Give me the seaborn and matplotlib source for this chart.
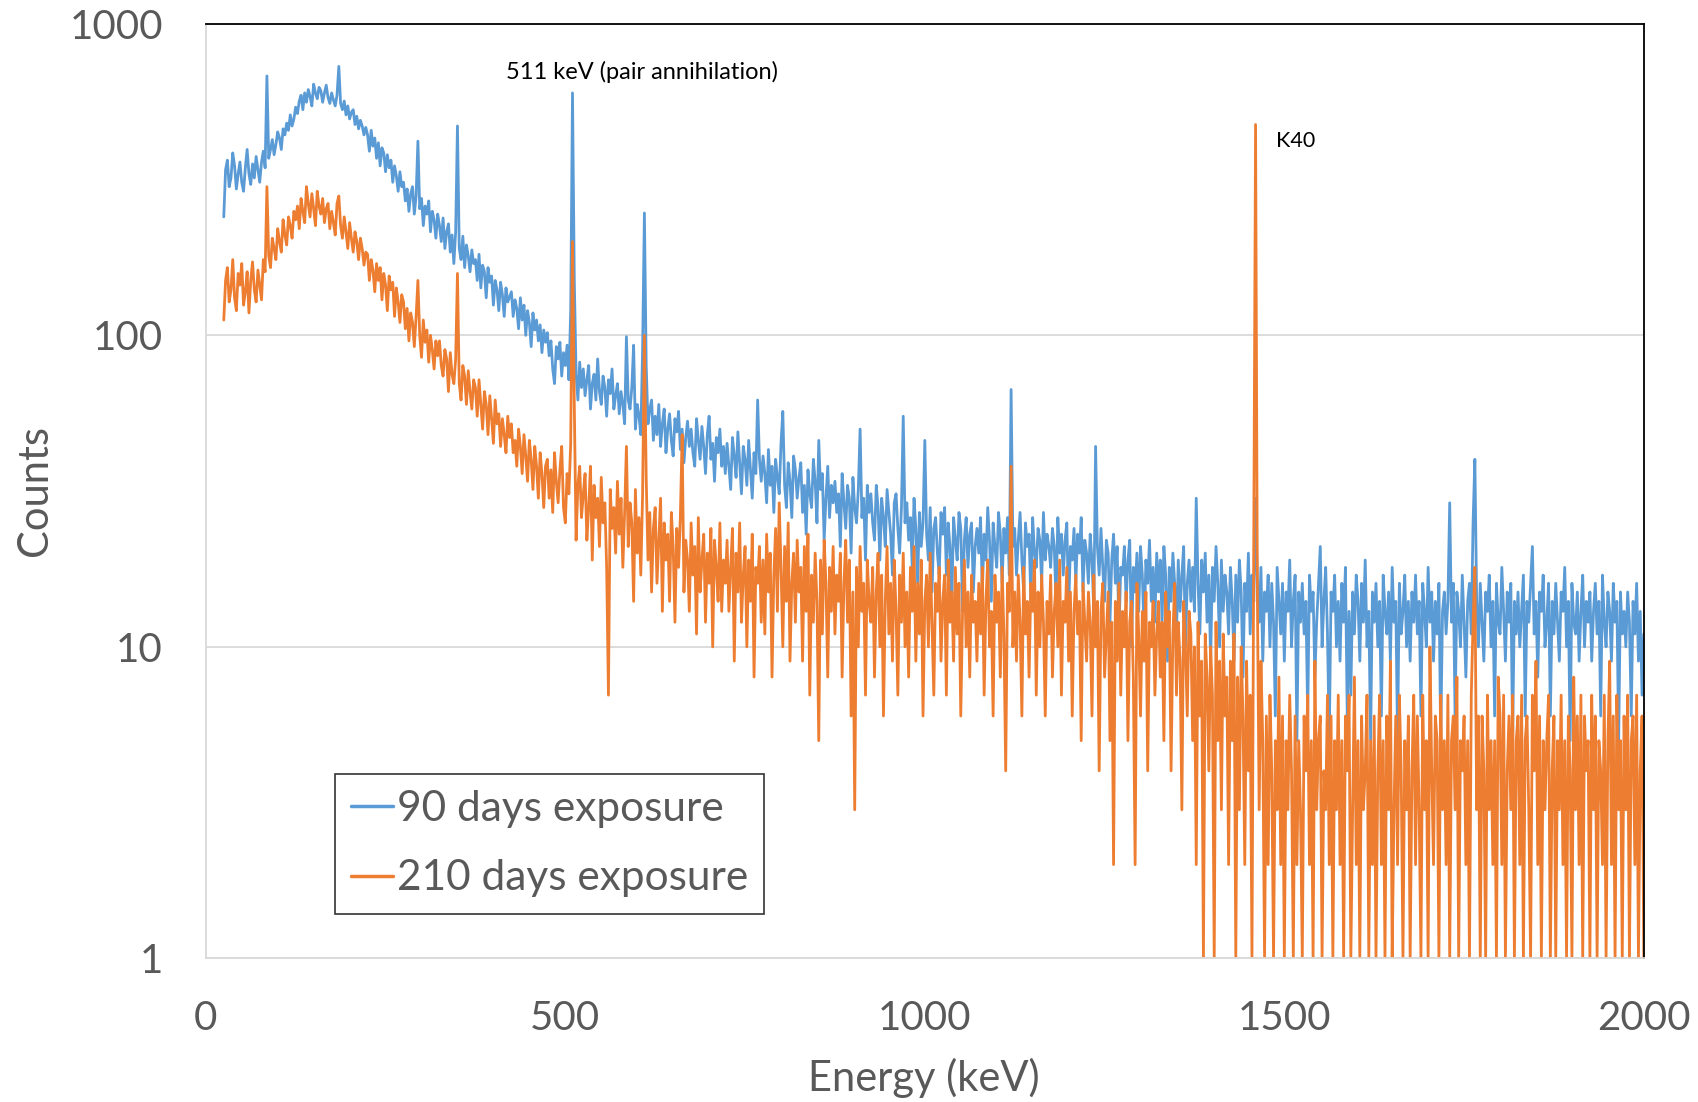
import numpy as np
import pandas as pd
import matplotlib
matplotlib.use("Agg")
import matplotlib.pyplot as plt
from matplotlib.ticker import FixedLocator, NullLocator
import seaborn as sns

# ---------------- data (2.5 keV sampling) ----------------
ENERGY_START_KEV = 25.0
ENERGY_STEP_KEV = 2.5

counts_90_days = [
    240, 340, 365, 300, 320, 385, 350, 295, 330, 360, 310, 290, 345, 395, 330, 305, 355, 320, 375, 340,   # 25
    310, 360, 390, 345, 680, 370, 395, 425, 380, 410, 450, 430, 395, 460, 440, 480, 455, 510, 470, 495,   # 75
    540, 515, 565, 590, 530, 600, 560, 615, 585, 545, 640, 600, 575, 625, 610, 560, 600, 635, 580, 555,   # 125
    600, 570, 545, 590, 730, 555, 530, 565, 510, 545, 495, 520, 530, 475, 505, 460, 490, 470, 440, 465,   # 175
    440, 390, 455, 405, 430, 370, 415, 350, 400, 385, 335, 380, 345, 365, 310, 350, 325, 290, 335, 300,   # 225
    310, 270, 295, 250, 285, 300, 245, 280, 420, 255, 275, 225, 260, 245, 270, 215, 250, 235, 205, 245,   # 275
    225, 200, 238, 190, 215, 228, 185, 210, 170, 215, 470, 190, 175, 208, 165, 195, 180, 160, 188, 170,   # 325
    175, 150, 182, 142, 168, 160, 132, 165, 148, 155, 125, 150, 140, 120, 148, 135, 115, 142, 128, 133,   # 375
    138, 115, 130, 122, 105, 132, 112, 125, 100, 120, 110, 92, 118, 104, 112, 96, 108, 88, 104, 95,       # 425
    102, 86, 96, 78, 70, 92, 84, 95, 74, 88, 80, 93, 72, 120, 600, 150, 75, 62, 82, 68,                   # 475
    78, 64, 72, 80, 58, 70, 75, 62, 84, 66, 60, 74, 68, 55, 72, 65, 78, 58, 64, 70,                       # 525
    56, 66, 60, 52, 99, 62, 58, 68, 93, 50, 60, 55, 48, 90, 247, 80, 52, 58, 62, 46,                      # 575
    55, 48, 60, 44, 52, 58, 42, 50, 56, 46, 41, 54, 49, 57, 43, 50, 39, 47, 53, 44,                       # 625
    50, 42, 38, 54, 46, 40, 51, 44, 36, 48, 55, 40, 45, 34, 47, 42, 50, 38, 44, 36,                       # 675
    45, 38, 32, 47, 41, 35, 49, 39, 31, 44, 40, 33, 46, 37, 30, 42, 36, 62, 40, 34,                       # 725
    41, 36, 29, 43, 33, 38, 27, 40, 35, 31, 45, 57, 33, 28, 39, 34, 26, 41, 37, 30,                       # 775
    35, 39, 27, 33, 23, 37, 31, 28, 40, 34, 25, 46, 32, 36, 22, 30, 38, 26, 33, 29,                       # 825
    34, 27, 31, 21, 36, 29, 24, 33, 30, 20, 35, 28, 25, 32, 50, 26, 30, 19, 33, 27,                       # 875
    31, 25, 22, 33, 28, 19, 30, 26, 21, 32, 27, 23, 17, 29, 31, 24, 20, 28, 55, 25,                       # 925
    29, 22, 26, 18, 30, 24, 16, 27, 21, 25, 46, 23, 19, 28, 15, 24, 26, 20, 17, 27,                       # 975
    23, 28, 17, 25, 21, 14, 26, 22, 19, 27, 24, 13, 22, 26, 18, 23, 25, 15, 21, 24,                       # 1025
    20, 26, 15, 23, 19, 28, 22, 14, 25, 21, 18, 27, 23, 16, 24, 20, 26, 17, 67, 21,                       # 1075
    24, 17, 22, 27, 19, 15, 25, 21, 23, 14, 26, 20, 18, 24, 22, 16, 27, 19, 23, 21,                       # 1125
    18, 24, 21, 14, 26, 20, 23, 17, 22, 25, 13, 21, 19, 24, 16, 23, 20, 26, 15, 22,                       # 1175
    20, 16, 23, 19, 13, 44, 21, 17, 24, 18, 14, 22, 20, 12, 19, 23, 16, 21, 11, 18,                       # 1225
    17, 21, 14, 19, 22, 10, 18, 15, 20, 13, 21, 17, 11, 19, 16, 22, 14, 18, 12, 20,                       # 1275
    15, 19, 12, 21, 17, 9, 18, 14, 20, 16, 11, 19, 13, 17, 21, 10, 16, 19, 14, 18,                        # 1325
    13, 30, 16, 11, 19, 15, 20, 12, 17, 9, 18, 14, 21, 16, 10, 19, 13, 17, 15, 11,                        # 1375
    18, 14, 9, 17, 12, 19, 15, 8, 16, 13, 20, 11, 17, 14, 30, 16, 12, 18, 9, 15,                          # 1425
    13, 17, 10, 16, 12, 6, 18, 14, 11, 16, 9, 15, 13, 19, 10, 14, 17, 5, 15, 12,                          # 1475
    16, 11, 14, 6, 17, 13, 15, 8, 12, 16, 21, 10, 14, 18, 11, 5, 15, 13, 17, 10,                          # 1525
    14, 9, 16, 12, 18, 6, 13, 7, 15, 11, 17, 14, 9, 16, 12, 19, 10, 13, 5, 15,                            # 1575
    12, 16, 10, 14, 6, 17, 13, 11, 15, 9, 18, 12, 14, 5, 16, 11, 13, 17, 10, 14,                          # 1625
    9, 15, 12, 17, 11, 14, 6, 16, 13, 10, 18, 12, 15, 9, 14, 11, 16, 5, 13, 15,                           # 1675
    11, 14, 29, 12, 16, 6, 15, 13, 10, 17, 12, 8, 14, 16, 11, 25, 40, 14, 10, 16,                         # 1725
    12, 9, 15, 13, 17, 10, 14, 6, 16, 12, 11, 18, 13, 9, 15, 12, 16, 5, 14, 11,                           # 1775
    15, 10, 13, 17, 6, 14, 12, 16, 21, 11, 14, 8, 15, 13, 17, 10, 12, 16, 6, 14,                          # 1825
    11, 16, 12, 9, 15, 13, 18, 10, 14, 5, 16, 12, 11, 15, 9, 13, 17, 10, 14, 12,                          # 1875
    15, 9, 13, 16, 11, 14, 6, 17, 12, 10, 15, 13, 9, 16, 12, 14, 5, 15, 11, 13,                           # 1925
    10, 15, 12, 6, 14, 11, 16, 9, 13, 7, 11,                                                              # 1975-2000
]

counts_210_days = [
    112, 150, 165, 128, 140, 175, 132, 120, 158, 145, 170, 125, 138, 160, 118, 150, 172, 140, 128, 162,   # 25
    145, 130, 175, 160, 300, 180, 165, 205, 190, 175, 220, 200, 185, 235, 210, 195, 240, 225, 205, 250,   # 75
    235, 260, 220, 275, 250, 230, 300, 265, 240, 285, 255, 225, 290, 260, 245, 275, 230, 255, 265, 220,   # 125
    250, 230, 210, 265, 280, 225, 205, 240, 215, 190, 230, 205, 185, 215, 200, 175, 205, 190, 168, 185,   # 175
    182, 150, 175, 162, 138, 170, 150, 165, 130, 158, 145, 120, 155, 140, 148, 115, 142, 128, 110, 135,   # 225
    128, 105, 122, 96, 118, 110, 92, 115, 150, 100, 85, 112, 95, 104, 82, 100, 90, 78, 96, 86,            # 275
    96, 80, 74, 90, 84, 66, 88, 75, 70, 84, 158, 70, 62, 80, 74, 60, 77, 66, 58, 72,                      # 325
    68, 55, 72, 60, 50, 66, 60, 48, 64, 54, 45, 62, 52, 56, 44, 54, 48, 42, 55, 47,                       # 375
    52, 42, 46, 38, 50, 44, 36, 48, 41, 34, 46, 40, 32, 44, 38, 30, 42, 36, 28, 38,                       # 425
    40, 30, 37, 27, 42, 34, 29, 37, 44, 28, 25, 36, 31, 45, 200, 60, 22, 33, 38, 26,                      # 475
    31, 36, 22, 28, 38, 19, 33, 26, 30, 21, 35, 25, 29, 18, 7, 32, 24, 28, 20, 34,                        # 525
    23, 30, 18, 27, 44, 21, 29, 25, 14, 32, 20, 26, 17, 31, 100, 35, 19, 27, 15, 24,                      # 575
    28, 16, 22, 30, 13, 25, 19, 23, 14, 27, 21, 12, 24, 18, 26, 48, 15, 22, 19, 13,                       # 625
    25, 17, 21, 11, 26, 15, 19, 23, 12, 20, 16, 24, 10, 22, 18, 14, 25, 13, 19, 16,                       # 675
    22, 13, 18, 24, 9, 20, 15, 25, 12, 17, 21, 10, 19, 14, 23, 8, 18, 16, 21, 12,                         # 725
    19, 11, 23, 15, 20, 8, 17, 24, 13, 29, 18, 10, 21, 14, 25, 9, 16, 20, 12, 22,                         # 775
    15, 18, 9, 21, 13, 23, 7, 17, 12, 20, 14, 5, 19, 11, 22, 16, 8, 18, 13, 21,                           # 825
    11, 17, 14, 20, 8, 16, 22, 12, 19, 6, 15, 3, 18, 10, 21, 13, 16, 7, 19, 14,                           # 875
    12, 18, 8, 15, 20, 10, 17, 6, 14, 21, 11, 16, 9, 19, 13, 7, 17, 12, 20, 10,                           # 925
    15, 8, 18, 13, 21, 9, 16, 11, 19, 6, 14, 17, 10, 20, 12, 7, 16, 13, 18, 9,                            # 975
    14, 17, 7, 19, 12, 15, 9, 18, 11, 16, 6, 13, 19, 10, 15, 8, 17, 12, 14, 9,                            # 1025
    16, 11, 18, 7, 14, 19, 10, 13, 6, 17, 12, 15, 8, 18, 11, 4, 16, 13, 38, 10,                           # 1075
    15, 9, 17, 12, 6, 18, 11, 14, 8, 16, 13, 19, 7, 15, 10, 17, 12, 6, 14, 11,                            # 1125
    17, 8, 13, 16, 10, 19, 7, 14, 12, 18, 9, 15, 6, 13, 17, 11, 14, 5, 16, 12,                            # 1175
    9, 15, 12, 6, 17, 10, 14, 4, 13, 16, 8, 11, 15, 5, 12, 2, 14, 9, 16, 7,                               # 1225
    13, 10, 15, 5, 12, 14, 8, 2, 16, 11, 6, 13, 9, 15, 4, 12, 10, 14, 7, 11,                              # 1275
    14, 8, 12, 5, 15, 10, 13, 4, 11, 16, 7, 12, 9, 3, 14, 10, 6, 13, 11, 5,                               # 1325
    10, 2, 12, 6, 9, 1, 11, 8, 4, 10, 7, 1, 12, 5, 9, 3, 11, 6, 8, 2,                                     # 1375
    9, 5, 11, 1, 8, 3, 10, 6, 2, 9, 4, 7, 1, 20, 475, 15, 3, 9, 5, 1,                                     # 1425
    6, 2, 7, 4, 1, 5, 3, 8, 2, 6, 1, 5, 3, 7, 4, 1, 6, 2, 5, 3,                                           # 1475
    1, 6, 4, 7, 2, 5, 1, 9, 3, 5, 6, 1, 4, 3, 7, 2, 6, 1, 5, 3,                                           # 1525
    7, 2, 5, 1, 6, 4, 7, 1, 3, 8, 2, 5, 1, 6, 3, 4, 7, 1, 5, 2,                                           # 1575
    6, 1, 4, 7, 2, 5, 1, 6, 3, 9, 1, 3, 6, 2, 7, 4, 1, 5, 3, 6,                                           # 1625
    1, 4, 7, 2, 6, 3, 1, 7, 3, 5, 1, 10, 4, 2, 6, 5, 1, 7, 3, 5,                                          # 1675
    2, 7, 1, 5, 6, 3, 8, 1, 5, 4, 6, 2, 5, 1, 7, 12, 18, 3, 6, 1,                                         # 1725
    6, 4, 1, 7, 3, 5, 2, 5, 1, 8, 6, 2, 7, 1, 4, 6, 3, 7, 1, 5,                                           # 1775
    6, 2, 7, 1, 5, 6, 3, 1, 7, 4, 9, 2, 6, 1, 5, 3, 5, 7, 1, 4,                                           # 1825
    6, 1, 5, 3, 7, 2, 5, 1, 6, 4, 1, 8, 3, 6, 2, 7, 1, 6, 4, 5,                                           # 1875
    1, 7, 3, 6, 1, 5, 4, 2, 7, 1, 5, 9, 2, 6, 1, 7, 3, 5, 1, 6,                                           # 1925
    3, 7, 1, 5, 6, 2, 7, 1, 4, 6, 1,                                                                      # 1975-2000
]

series_names = ["90 days exposure", "210 days exposure"]
series_colors = ["#5B9BD5", "#ED7D31"]

x_ticks = [0, 500, 1000, 1500, 2000]
y_ticks = [1, 10, 100, 1000]
y_tick_labels = ["1", "10", "100", "1000"]

annotations = [("511 keV (pair annihilation)", 417, 700, 17), ("K40", 1488, 420, 15.5)]

# ---------------- build table ----------------
frames = []
for name, vals in zip(series_names, [counts_90_days, counts_210_days]):
    e = ENERGY_START_KEV + ENERGY_STEP_KEV * np.arange(len(vals))
    frames.append(pd.DataFrame({"Energy (keV)": e, "Counts": vals, "Series": name}))
df = pd.concat(frames, ignore_index=True)

# ---------------- plot ----------------
sns.set_theme(style="white")
plt.rcParams["font.family"] = ["Lato", "DejaVu Sans"]

fig = plt.figure(figsize=(16.98, 11.02), dpi=100)
ax = fig.add_axes([0.1212, 0.1303, 0.8469, 0.8481])

sns.lineplot(data=df, x="Energy (keV)", y="Counts", hue="Series",
             hue_order=series_names, palette=series_colors,
             estimator=None, sort=False, linewidth=2.0, ax=ax)

ax.set_yscale("log")
ax.set_ylim(1, 1000)
ax.set_xlim(0, 2000)
ax.yaxis.set_major_locator(FixedLocator(y_ticks))
ax.yaxis.set_minor_locator(NullLocator())
ax.set_yticklabels(y_tick_labels)
ax.set_xticks(x_ticks)
ax.set_xticklabels([str(t) for t in x_ticks])

ax.grid(axis="y", color="#D9D9D9", linewidth=1.3)
ax.grid(axis="x", visible=False)
ax.set_axisbelow(True)

for side in ["left", "bottom"]:
    ax.spines[side].set_color("#D9D9D9")
    ax.spines[side].set_linewidth(1.3)
for side in ["top", "right"]:
    ax.spines[side].set_color("#000000")
    ax.spines[side].set_linewidth(1.3)

ax.tick_params(axis="both", which="both", length=0, labelsize=29,
               labelcolor="#595959")
ax.tick_params(axis="y", pad=31)
ax.tick_params(axis="x", pad=30)

ax.set_xlabel("Energy (keV)", fontsize=30, color="#595959")
ax.set_ylabel("Counts", fontsize=30, color="#595959")
ax.xaxis.set_label_coords(0.4994, -0.128)
ax.xaxis.label.set_va("center")
ax.yaxis.set_label_coords(-0.1188, 0.501)
ax.yaxis.label.set_va("center")

for text, ex, cy, fs in annotations:
    ax.text(ex, cy, text, fontsize=fs, color="black", ha="left", va="center")

leg = ax.legend(loc="upper left", bbox_to_anchor=(0.0898, 0.1973),
                fontsize=30.5, frameon=True, fancybox=False,
                handlelength=1.0, handletextpad=0.08, borderpad=0.38,
                labelspacing=0.74, borderaxespad=0)
leg.get_frame().set_edgecolor("black")
leg.get_frame().set_linewidth(1.2)
for t in leg.get_texts():
    t.set_color("#595959")
for line in leg.get_lines():
    line.set_linewidth(2.5)

fig.savefig("out.png", dpi=100, facecolor="white")
